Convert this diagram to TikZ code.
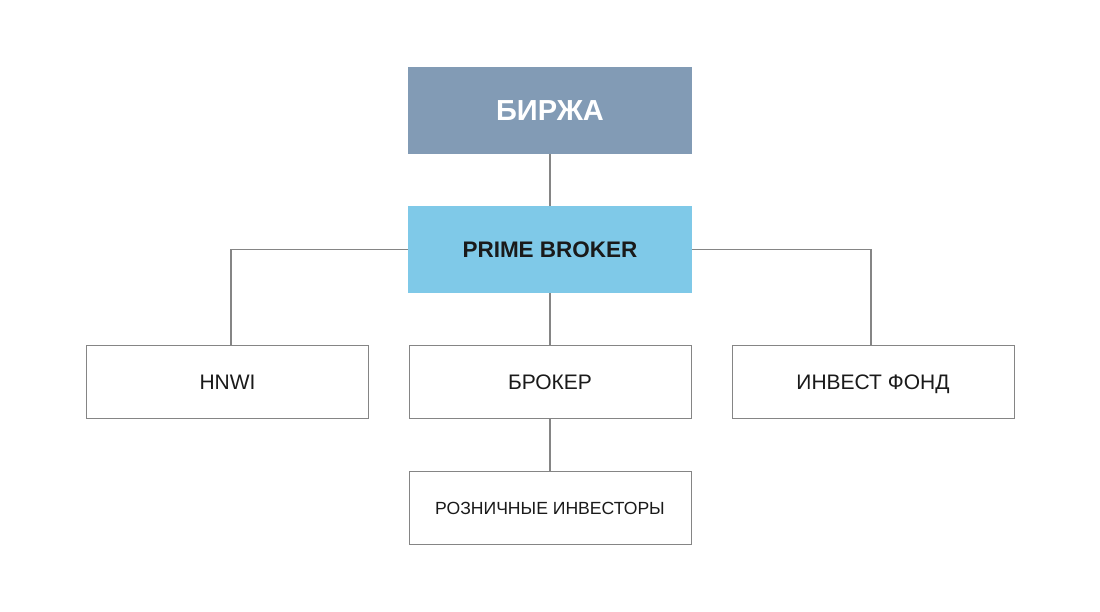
\documentclass[tikz,border=0pt]{standalone}
\usepackage{fontspec}
\setmainfont{Liberation Sans}
\definecolor{birja}{HTML}{829BB5}
\definecolor{prime}{HTML}{7FC9E8}
\definecolor{edge}{HTML}{858585}
\definecolor{txt}{HTML}{1A1A1A}
\tikzset{
  box/.style={draw=edge, line width=1pt, fill=white, minimum width=282pt, minimum height=73pt, inner sep=0pt, text=txt, text height=15pt, text depth=0pt, font=\fontsize{21}{24}\selectfont},
  topbox/.style={draw=none, minimum width=284pt, minimum height=87pt, inner sep=0pt, text height=16.1pt, text depth=0pt, font=\fontsize{22.5}{26}\selectfont\bfseries},
  conn/.style={draw=edge, line width=1.4pt}
}
\begin{document}
\begin{tikzpicture}[x=1pt,y=-1pt]
\useasboundingbox (0,0) rectangle (1100,612);
\node[topbox, fill=birja, text=white, text height=20.8pt, font=\fontsize{29}{32}\selectfont\bfseries] (b) at (550,110.5) {БИРЖА};
\node[topbox, fill=prime, text=txt] (p) at (550,249.5) {PRIME BROKER};
\node[box] (h) at (227.5,381.5) {HNWI};
\node[box] (k) at (550,381.5) {БРОКЕР};
\node[box] (f) at (873,381.5) {ИНВЕСТ ФОНД};
\node[box, text height=12.6pt, font=\fontsize{17.6}{20}\selectfont] (r) at (550,508) {РОЗНИЧНЫЕ ИНВЕСТОРЫ};
\draw[conn] (b.south) -- (p.north);
\draw[conn] (p.west) -| (h.north -| 231,0) ;
\draw[conn] (p.east) -| (f.north -| 871,0);
\draw[conn] (p.south) -- (k.north);
\draw[conn] (k.south) -- (r.north);
\end{tikzpicture}
\end{document}
